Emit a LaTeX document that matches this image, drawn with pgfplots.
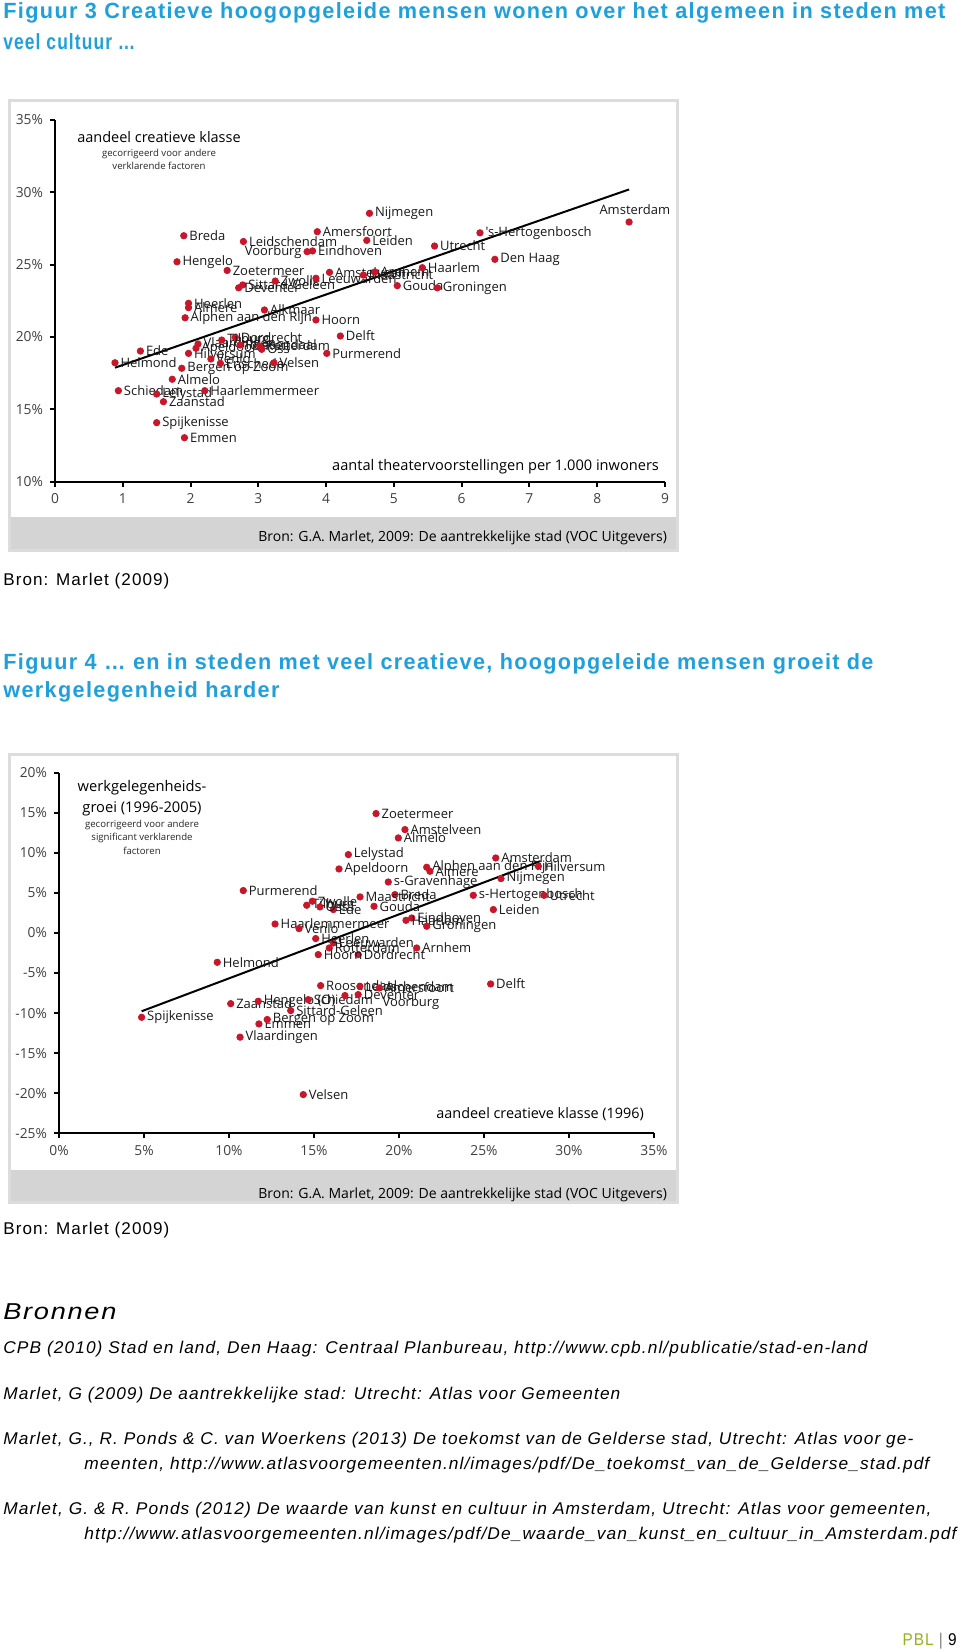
\documentclass[border=0pt]{standalone}
\usepackage{fontspec}
\usepackage{graphicx}
\usepackage{xcolor}
\usepackage{pgfplots}
\pgfplotsset{compat=1.18}
\setmainfont{Liberation Sans}
\newfontfamily\chartfont{Open Sans}
\newfontfamily\bodyfont[FakeStretch=0.8,LetterSpace=5]{Liberation Sans}
\definecolor{titleblue}{RGB}{31,160,219}
\definecolor{dotred}{RGB}{200,22,42}
\definecolor{pblgreen}{RGB}{150,178,30}
\definecolor{panelgray}{RGB}{220,220,220}
\definecolor{bandgray}{RGB}{212,212,212}
\newcommand\fitw[2]{\resizebox{#1}{\height}{#2}}

\pgfplotstableread[col sep=comma]{
x,y,label
1.90,27.0,Breda
2.78,26.6,Leidschendam
1.80,25.2,Hengelo
2.54,24.6,Zoetermeer
2.77,23.6,Sittard-Geleen
2.71,23.4,Deventer
3.25,23.87,Zwolle
3.85,24.06,Leeuwarden
4.05,24.47,Amstelveen
4.55,24.28,Maastricht
4.72,24.5,Arnhem
5.42,24.79,Haarlem
5.05,23.55,Gouda
5.64,23.4,Groningen
5.60,26.29,Utrecht
4.60,26.68,Leiden
4.64,28.55,Nijmegen
3.87,27.28,Amersfoort
3.80,25.95,Eindhoven
6.27,27.2,'s-Hertogenbosch
6.49,25.37,Den Haag
1.97,22.33,Heerlen
1.97,22.03,Almere
1.92,21.33,Alphen aan den Rijn
3.09,21.87,Alkmaar
3.85,21.18,Hoorn
4.21,20.07,Delft
4.01,18.87,Purmerend
2.66,19.98,Dordrecht
1.26,19.03,Ede
0.885,18.22,Helmond
1.97,18.87,Hilversum
1.87,17.84,Bergen op Zoom
1.73,17.08,Almelo
0.935,16.29,Schiedam
1.50,16.06,Lelystad
2.21,16.29,Haarlemmermeer
1.60,15.53,Zaanstad
1.50,14.08,Spijkenisse
1.91,13.04,Emmen
2.30,18.48,Venlo
2.44,18.18,Enschede
3.23,18.22,Velsen
2.11,19.52,Vlaardingen
2.08,19.22,Apeldoorn
2.46,19.79,Tilburg
2.73,19.45,Roosendaal
3.02,19.38,Rotterdam
3.05,19.15,Oss
}\figA

\pgfplotstableread[col sep=comma]{
x,y,label
18.65,14.9,Zoetermeer
20.35,12.9,Amstelveen
19.96,11.86,Almelo
17.02,9.78,Lelystad
16.47,7.99,Apeldoorn
21.63,8.2,Alphen aan den Rijn
21.82,7.7,Almere
25.69,9.36,Amsterdam
28.2,8.32,Hilversum
26.0,6.79,Nijmegen
19.37,6.36,s-Gravenhage
19.76,4.79,Breda
17.71,4.5,Maastricht
18.53,3.33,Gouda
24.37,4.7,s-Hertogenbosch
28.53,4.7,Utrecht
25.55,2.92,Leiden
20.75,1.87,Eindhoven
20.41,1.58,Haarlem
21.63,0.84,Groningen
16.14,-1.25,Leeuwarden
15.9,-1.87,Rotterdam
17.6,-2.7,Dordrecht
21.04,-1.87,Arnhem
16.14,2.92,Ede
10.84,5.29,Purmerend
14.57,3.46,Tilburg
14.9,3.96,Zwolle
15.35,3.25,Oss
12.71,1.12,Haarlemmermeer
14.12,0.55,Venlo
15.10,-0.7,Heerlen
15.25,-2.7,Hoorn
9.31,-3.66,Helmond
4.86,-10.52,Spijkenisse
10.1,-8.82,Zaanstad
11.72,-8.52,Hengelo (O)
11.76,-11.35,Emmen
12.25,-10.8,Bergen op Zoom
10.65,-13.0,Vlaardingen
13.63,-9.69,Sittard-Geleen
14.66,-8.32,Schiedam
15.39,-6.57,Roosendaal
14.37,-20.17,Velsen
17.6,-7.69,Deventer
17.7,-6.65,Leidschendam
18.84,-6.86,Amersfoort
25.39,-6.36,Delft
}\figB

\pgfplotsset{
  scat/.style={only marks, mark=*, mark size=1.6pt, color=dotred,
    nodes near coords, point meta=explicit symbolic,
    every node near coord/.append style={anchor=west, xshift=2.6pt, inner sep=0pt,
      font=\chartfont\fontsize{6.5}{8}\selectfont, text=black!90}},
  panelaxis/.style={scale only axis, axis lines*=left, clip=false,
    tick align=outside, major tick length=2.5pt,
    axis line style={line width=1pt, black},
    every tick/.style={line width=1pt, black},
    ticklabel style={font=\chartfont\fontsize{6.9}{8}\selectfont, text=black!75},
    /pgf/number format/assume math mode=true,
    enlargelimits=false}
}

\begin{document}
\begin{tikzpicture}
\begin{scope}[x=0.5pt,y=-0.5pt]
\path[use as bounding box, fill=white] (0,0) rectangle (960,1652);
% titles
\node[anchor=west, inner sep=0pt, text=titleblue] at (3,13) {\fitw{471pt}{\bodyfont\bfseries\fontsize{11}{13}\selectfont Figuur 3 Creatieve hoogopgeleide mensen wonen over het algemeen in steden met}};
\node[anchor=west, inner sep=0pt, text=titleblue] at (3,42) {\fitw{66pt}{\bodyfont\bfseries\fontsize{11}{13}\selectfont veel cultuur …}};
% panel 1
\fill[bandgray] (9,517) rectangle (677,550);
\draw[panelgray, line width=1.5pt] (9,101) rectangle (677,550);
\node[font=\chartfont\fontsize{7.25}{8}\selectfont] at (159,137) {aandeel creatieve klasse};
\node[font=\chartfont\fontsize{4.8}{6}\selectfont, text=black!85] at (159,154) {gecorrigeerd voor andere};
\node[font=\chartfont\fontsize{4.8}{6}\selectfont, text=black!85] at (159,166) {verklarende factoren};
\node[anchor=east, font=\chartfont\fontsize{7.3}{8}\selectfont] at (666,467) {aantal theatervoorstellingen per 1.000 inwoners};
\node[anchor=east, font=\chartfont\fontsize{7}{8}\selectfont] at (674,538) {Bron: G.A. Marlet, 2009: De aantrekkelijke stad (VOC Uitgevers)};
\node[anchor=west, inner sep=0pt] at (3,581) {\fitw{83pt}{\bodyfont\fontsize{8.5}{10}\selectfont Bron: Marlet (2009)}};
% title 4
\node[anchor=west, inner sep=0pt, text=titleblue] at (3,664) {\fitw{435pt}{\bodyfont\bfseries\fontsize{11}{13}\selectfont Figuur 4 … en in steden met veel creatieve, hoogopgeleide mensen groeit de}};
\node[anchor=west, inner sep=0pt, text=titleblue] at (3,692) {\fitw{138pt}{\bodyfont\bfseries\fontsize{11}{13}\selectfont werkgelegenheid harder}};
% panel 2
\fill[bandgray] (9,1170) rectangle (677,1202);
\draw[panelgray, line width=1.5pt] (9,754) rectangle (677,1202);
\node[font=\chartfont\fontsize{7.35}{8}\selectfont] at (142,788) {werkgelegenheids-};
\node[font=\chartfont\fontsize{7.35}{8}\selectfont] at (142,809) {groei (1996-2005)};
\node[font=\chartfont\fontsize{4.8}{6}\selectfont, text=black!85] at (142,825) {gecorrigeerd voor andere};
\node[font=\chartfont\fontsize{4.8}{6}\selectfont, text=black!85] at (142,838) {significant verklarende};
\node[font=\chartfont\fontsize{4.8}{6}\selectfont, text=black!85] at (142,851) {factoren};
\node[anchor=east, font=\chartfont\fontsize{7.2}{8}\selectfont] at (651,1114) {aandeel creatieve klasse (1996)};
\node[anchor=east, font=\chartfont\fontsize{7}{8}\selectfont] at (674,1195) {Bron: G.A. Marlet, 2009: De aantrekkelijke stad (VOC Uitgevers)};
\node[anchor=west, inner sep=0pt] at (3,1230) {\fitw{83pt}{\bodyfont\fontsize{8.5}{10}\selectfont Bron: Marlet (2009)}};
% references
\node[anchor=west, inner sep=0pt] at (3,1312) {\fitw{56.5pt}{\bodyfont\itshape\fontsize{11.5}{13}\selectfont Bronnen}};
\node[anchor=west, inner sep=0pt] at (3,1349) {\fitw{432pt}{\bodyfont\itshape\fontsize{8.5}{10}\selectfont CPB (2010) Stad en land, Den Haag: Centraal Planbureau, http://www.cpb.nl/publicatie/stad-en-land}};
\node[anchor=west, inner sep=0pt] at (3,1395) {\fitw{308.5pt}{\bodyfont\itshape\fontsize{8.5}{10}\selectfont Marlet, G (2009) De aantrekkelijke stad: Utrecht: Atlas voor Gemeenten}};
\node[anchor=west, inner sep=0pt] at (3,1440) {\fitw{455pt}{\bodyfont\itshape\fontsize{8.5}{10}\selectfont Marlet, G., R. Ponds \& C. van Woerkens (2013) De toekomst van de Gelderse stad, Utrecht: Atlas voor ge-}};
\node[anchor=west, inner sep=0pt] at (84,1465) {\fitw{422.5pt}{\bodyfont\itshape\fontsize{8.5}{10}\selectfont meenten, http://www.atlasvoorgemeenten.nl/images/pdf/De\_toekomst\_van\_de\_Gelderse\_stad.pdf}};
\node[anchor=west, inner sep=0pt] at (3,1510) {\fitw{464pt}{\bodyfont\itshape\fontsize{8.5}{10}\selectfont Marlet, G. \& R. Ponds (2012) De waarde van kunst en cultuur in Amsterdam, Utrecht: Atlas voor gemeenten,}};
\node[anchor=west, inner sep=0pt] at (84,1535) {\fitw{436pt}{\bodyfont\itshape\fontsize{8.5}{10}\selectfont http://www.atlasvoorgemeenten.nl/images/pdf/De\_waarde\_van\_kunst\_en\_cultuur\_in\_Amsterdam.pdf}};
\node[anchor=east, inner sep=0pt] at (957,1641) {\fitw{27pt}{\bodyfont\fontsize{8.5}{10}\selectfont\textcolor{pblgreen}{PBL} \textcolor{black!50}{|} 9}};
\end{scope}

% ---------- Figure 3 ----------
\begin{axis}[panelaxis, at={(27.5pt,-240.85pt)}, anchor=south west,
  width=305pt, height=180.85pt,
  xmin=0, xmax=9, ymin=10, ymax=35,
  xtick={0,1,2,3,4,5,6,7,8,9},
  xticklabels={0,1,2,3,4,5,6,7,8,9},
  ytick={10,15,20,25,30,35},
  yticklabels={10\%,15\%,20\%,25\%,30\%,35\%}]
\addplot[black, line width=1pt] coordinates {(0.885,17.88) (8.47,30.2)};
\addplot[scat] table[x=x, y=y, meta=label] {\figA};
\addplot[scat, every node near coord/.append style={anchor=east, xshift=-5.2pt}]
  coordinates {(3.72,25.9) [Voorburg]};
\addplot[scat, every node near coord/.append style={anchor=south, xshift=0.3pt, yshift=3.5pt}]
  coordinates {(8.47,27.95) [Amsterdam]};
\end{axis}

% ---------- Figure 4 ----------
\begin{axis}[panelaxis, at={(29.5pt,-566.65pt)}, anchor=south west,
  width=297.5pt, height=180.3pt,
  xmin=0, xmax=35, ymin=-25, ymax=20,
  xtick={0,5,10,15,20,25,30,35},
  xticklabels={0\%,5\%,10\%,15\%,20\%,25\%,30\%,35\%},
  ytick={-25,-20,-15,-10,-5,0,5,10,15,20},
  yticklabels={-25\%,-20\%,-15\%,-10\%,-5\%,0\%,5\%,10\%,15\%,20\%}]
\addplot[black, line width=1pt] coordinates {(4.86,-9.77) (28.3,8.95)};
\addplot[scat] table[x=x, y=y, meta=label] {\figB};
\addplot[scat, every node near coord/.append style={xshift=16pt, yshift=-4pt}]
  coordinates {(16.82,-7.81) [Voorburg]};
\end{axis}
\end{tikzpicture}
\end{document}
